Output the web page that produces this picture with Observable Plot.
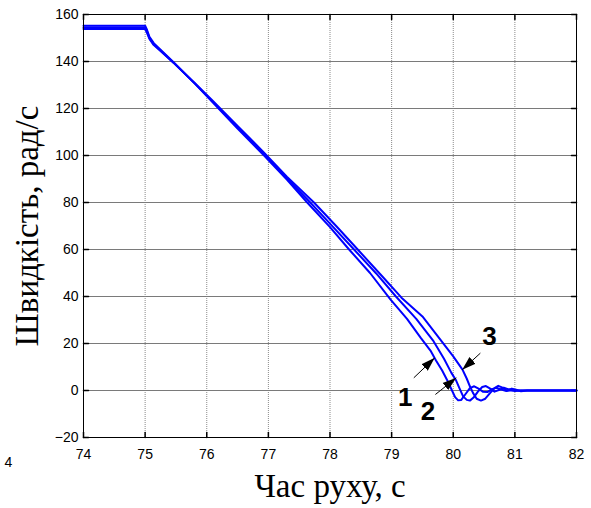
<!DOCTYPE html>
<html>
<head>
<meta charset="utf-8">
<script src="https://cdn.jsdelivr.net/npm/d3@7"></script>
<script src="https://cdn.jsdelivr.net/npm/@observablehq/plot@0.6"></script>
<style>
  body { margin: 0; background: #fff; }
  #chart { width: 591px; height: 508px; }
  #chart svg text.serif-title { font-family: "Liberation Serif", "Times New Roman", serif !important; }
</style>
</head>
<body>
<div id="chart"></div>
<script>
// ---- tick values ----
const xTicks = [74, 75, 76, 77, 78, 79, 80, 81, 82];
const yTicks = [-20, 0, 20, 40, 60, 80, 100, 120, 140, 160];

// ---- series 1 (curve "1") ----
const t1 = [74, 75.0, 75.03, 75.07, 75.14, 75.25, 75.47, 75.8, 76.1, 76.5, 76.93, 77.3, 77.63, 78.0, 78.31, 78.65, 78.98, 79.25, 79.47, 79.63, 79.72, 79.82, 79.9, 79.98, 80.03, 80.08, 80.13, 80.2, 80.27, 80.34, 80.41, 80.48, 80.56, 80.63, 80.7, 80.78, 80.86, 80.95, 81.05, 82];
const v1 = [155.2, 155.2, 153.5, 150.5, 147.8, 145.0, 139.5, 130.8, 122.5, 111.5, 100.0, 89.8, 80.0, 69.5, 60.0, 50.0, 38.8, 30.5, 22.5, 17.0, 12.8, 8.5, 4.5, 0.0, -2.8, -4.2, -4.0, -1.5, 1.0, 1.8, 0.8, -0.5, -0.6, 0.6, 1.2, 0.4, -0.2, 0.1, 0, 0];

// ---- series 2 (curve "2") ----
const t2 = [74, 75.0, 75.03, 75.07, 75.14, 75.25, 75.47, 75.8, 76.1, 76.5, 76.93, 77.3, 77.68, 78.0, 78.39, 78.75, 79.07, 79.4, 79.68, 79.85, 79.97, 80.04, 80.1, 80.16, 80.22, 80.27, 80.33, 80.4, 80.47, 80.53, 80.6, 80.67, 80.75, 80.82, 80.9, 81.0, 81.1, 82];
const v2 = [154.5, 154.5, 152.8, 150.0, 147.3, 144.7, 139.3, 130.8, 122.8, 112.0, 100.6, 90.3, 80.0, 71.0, 60.0, 49.8, 40.0, 30.5, 21.0, 13.5, 7.5, 4.6, 1.0, -2.5, -4.0, -4.3, -3.0, -0.5, 1.5, 1.9, 0.8, -0.5, 0.3, 1.2, 0.5, -0.2, 0, 0];

// ---- series 3 (curve "3") ----
const t3 = [74, 75.0, 75.03, 75.07, 75.14, 75.25, 75.47, 75.8, 76.1, 76.5, 76.93, 77.3, 77.74, 78.1, 78.45, 78.85, 79.16, 79.5, 79.85, 80.0, 80.15, 80.22, 80.27, 80.32, 80.38, 80.45, 80.52, 80.6, 80.67, 80.73, 80.8, 80.87, 80.95, 81.02, 81.1, 81.2, 82];
const v3 = [153.8, 153.8, 152.2, 149.6, 147.0, 144.5, 139.2, 131.0, 123.2, 112.6, 101.2, 91.0, 80.0, 70.0, 60.0, 48.5, 39.5, 31.5, 19.6, 14.5, 8.9, 5.0, 1.8, -1.0, -3.5, -4.3, -3.5, -1.0, 1.0, 2.0, 1.2, 0, 0.8, 0.3, -0.3, 0, 0];

// ---- annotation arrows and labels ----
const arrowFromX = [79.36, 79.71, 80.44];
const arrowFromY = [5.4, -1.7, 15.9];
const arrowToX = [79.70, 80.05, 80.145];
const arrowToY = [13.9, 5.4, 8.8];
const labelText = ["1", "2", "3"];
const labelX = [79.22, 79.59, 80.59];
const labelY = [-3.0, -9.2, 22.7];

const xTitle = "Час руху, с";
const yTitle = "Швидкість, рад/с";

// ---- build tables ----
const series = [
  {id: "1", t: t1, v: v1},
  {id: "2", t: t2, v: v2},
  {id: "3", t: t3, v: v3}
];
const rows = series.flatMap(s => s.t.map((t, i) => ({line: s.id, t, v: s.v[i]})));
const arrows = arrowFromX.map((x, i) => ({x1: x, y1: arrowFromY[i], x2: arrowToX[i], y2: arrowToY[i]}));
const labels = labelText.map((s, i) => ({s, x: labelX[i], y: labelY[i]}));

const tickShape = {draw(ctx, l) { ctx.moveTo(0, 0); ctx.lineTo(0, -l); }};
const sans = "Liberation Sans, Arial, sans-serif";
const serif = "Liberation Serif, Times New Roman, serif";

const svg = Plot.plot({
  width: 591,
  height: 508,
  marginLeft: 83,
  marginRight: 15,
  marginTop: 14,
  marginBottom: 71,
  style: {fontFamily: sans, fontSize: "14px", background: "#fff", color: "#000"},
  x: {domain: [74, 82]},
  y: {domain: [-20, 160]},
  marks: [
    // grid
    Plot.ruleX(xTicks, {x: d => d, stroke: "#8a8a8a", strokeWidth: 1, strokeDasharray: "1,1"}),
    Plot.ruleY(yTicks, {y: d => d, stroke: "#7a7a7a", strokeWidth: 1}),
    // inward ticks on all four sides
    Plot.vector(xTicks, {x: d => d, y: -20, length: 5, rotate: 0, anchor: "start", shape: tickShape, stroke: "#000"}),
    Plot.vector(xTicks, {x: d => d, y: 160, length: 5, rotate: 180, anchor: "start", shape: tickShape, stroke: "#000"}),
    Plot.vector(yTicks, {x: 74, y: d => d, length: 5, rotate: 90, anchor: "start", shape: tickShape, stroke: "#000"}),
    Plot.vector(yTicks, {x: 82, y: d => d, length: 5, rotate: -90, anchor: "start", shape: tickShape, stroke: "#000"}),
    // axis labels
    Plot.axisX(xTicks, {tickSize: 0, tickPadding: 12, label: null, fontSize: 14}),
    Plot.axisY(yTicks, {tickSize: 0, tickPadding: 5, label: null, fontSize: 14}),
    // curves
    Plot.line(rows, {x: "t", y: "v", z: "line", stroke: "#0000ff", strokeWidth: 2}),
    // frame
    Plot.frame({stroke: "#000", strokeWidth: 1}),
    // arrows
    Plot.link(arrows, {x1: "x1", y1: "y1", x2: "x2", y2: "y2", stroke: "#000", strokeWidth: 1, markerEnd: "arrow"}),
    Plot.text(labels, {x: "x", y: "y", text: "s", fontSize: 26, fontWeight: "bold", fill: "#000"}),
    // axis titles
    Plot.text([xTitle], {frameAnchor: "bottom", dy: 59, lineAnchor: "bottom", textAnchor: "middle", fontSize: 33, fontFamily: serif, fill: "#000"}),
    Plot.text([yTitle], {frameAnchor: "left", dx: -46, rotate: -90, lineAnchor: "bottom", textAnchor: "middle", fontSize: 33, fontFamily: serif, fill: "#000"}),
    // stray glyph at lower left of the reference image
    Plot.text(["4"], {frameAnchor: "bottom-left", dx: -79, dy: 29, lineAnchor: "bottom", fontSize: 14, fill: "#000"})
  ]
});

// serif axis titles
svg.querySelectorAll("text").forEach(t => {
  if (t.textContent === xTitle || t.textContent === yTitle) {
    t.classList.add("serif-title");
    t.style.fontFamily = '"Liberation Serif", "Times New Roman", serif';
  }
});

// filled triangular arrow heads
svg.querySelectorAll("marker").forEach(m => {
  m.setAttribute("viewBox", "-14 -5 14 10");
  m.setAttribute("markerWidth", "14");
  m.setAttribute("markerHeight", "10");
  m.setAttribute("markerUnits", "userSpaceOnUse");
  m.setAttribute("fill", "#000");
  m.setAttribute("stroke", "none");
  const p = m.querySelector("path");
  if (p) p.setAttribute("d", "M-14,-4.5L0,0L-14,4.5Z");
});

document.getElementById("chart").appendChild(svg);
</script>
</body>
</html>
